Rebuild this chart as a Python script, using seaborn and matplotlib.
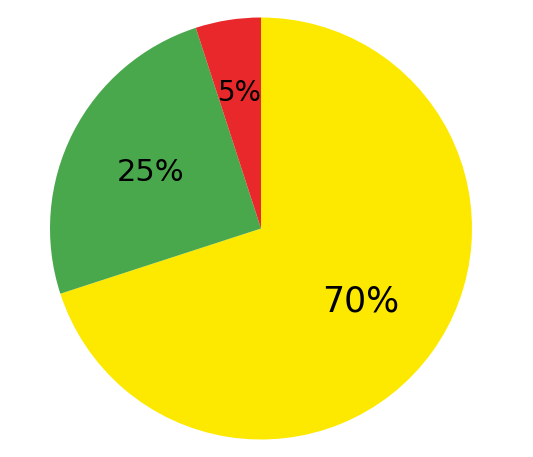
import matplotlib
matplotlib.use("Agg")
import matplotlib.pyplot as plt
import seaborn as sns
import numpy as np

labels = ["Yellow", "Green", "Red"]
values = [70, 25, 5]
colors = ["#FDE900", "#4AA84C", "#E8282A"]
label_sizes = [25, 22, 20]
label_dist = [0.585, 0.585, 0.65]

sns.set_style("white")
plt.rcParams['font.family'] = ['DejaVu Sans']

fig = plt.figure(figsize=(5.33, 4.57), dpi=100)
R = 211
ax = fig.add_axes([(261 - R) / 533, (457 - 228.5 - R) / 457, 2 * R / 533, 2 * R / 457])
wedges, texts, autotexts = ax.pie(values, colors=sns.color_palette(colors), startangle=90,
                                  counterclock=False, autopct='%1.0f%%', pctdistance=0.6,
                                  wedgeprops=dict(linewidth=0, edgecolor='none'))
for w, t, s, d in zip(wedges, autotexts, label_sizes, label_dist):
    ang = np.deg2rad((w.theta1 + w.theta2) / 2)
    t.set_position((d * np.cos(ang), d * np.sin(ang)))
    t.set_fontsize(s)
    t.set_color("black")
ax.set_xlim(-1, 1)
ax.set_ylim(-1, 1)
ax.set_aspect('equal')
ax.axis('off')
fig.savefig("out.png", dpi=100)
